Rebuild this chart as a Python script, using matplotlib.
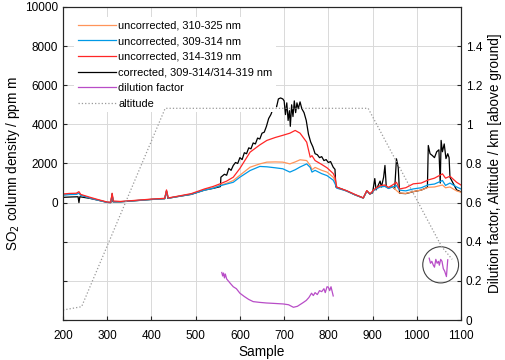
import numpy as np
import matplotlib
matplotlib.use("Agg")
import matplotlib.pyplot as plt
from matplotlib.patches import Ellipse

plt.rcParams['font.family'] = ['Liberation Sans', 'DejaVu Sans']
plt.rcParams['font.size'] = 8.5

# -----------------------------
# Data
# -----------------------------
x_unc = [200, 215, 230, 236, 240, 260, 280, 300, 308, 311, 314, 330, 360, 400, 430, 434, 438,
         460, 490, 520, 540, 555, 570, 585, 600, 623, 645, 661, 680, 697, 713, 725, 736, 751,
         759, 763, 770, 785, 797, 811, 815, 819, 830, 841, 860, 879, 887, 894, 905, 917, 928,
         936, 945, 954, 961, 975, 992, 1010, 1026, 1040, 1058, 1065, 1075, 1090, 1100]

red = [445, 470, 480, 560, 420, 280, 150, 30, 20, 480, 80, 60, 110, 180, 220, 650, 240,
       330, 460, 700, 830, 960, 1100, 1300, 1750, 2580, 2950, 3180, 3330, 3440, 3550, 3690, 3550, 3090,
       2320, 2400, 2150, 1950, 1780, 1490, 1300, 790, 700, 615, 420, 240, 615, 445, 700, 870, 900,
       780, 900, 1040, 700, 760, 960, 1000, 1160, 1250, 1470, 1250, 1350, 1040, 900]

orange = [400, 430, 440, 500, 390, 250, 130, 20, 10, 400, 60, 50, 100, 170, 210, 600, 230,
          320, 440, 650, 760, 880, 990, 1130, 1400, 1810, 1980, 2070, 2080, 2070, 1980, 2080, 2190, 2150,
          1900, 1680, 1800, 1650, 1560, 1300, 1130, 760, 680, 600, 400, 230, 590, 430, 680, 820, 850,
          740, 820, 620, 490, 470, 565, 640, 785, 800, 900, 760, 800, 600, 530]

blue = [380, 410, 420, 480, 370, 240, 120, 15, 5, 380, 50, 45, 95, 165, 205, 580, 225,
        315, 430, 640, 740, 860, 950, 1040, 1300, 1640, 1850, 1830, 1780, 1730, 1560, 1680, 1820, 1980,
        1800, 1560, 1650, 1480, 1380, 1150, 970, 740, 670, 595, 400, 230, 590, 430, 660, 800, 830,
        720, 800, 870, 640, 600, 700, 760, 910, 950, 1130, 880, 1000, 800, 700]

x_cor = [200, 220, 234, 236, 238, 260, 280, 300, 308, 311, 313, 330, 360, 400, 430, 434, 437,
         460, 490, 520, 540, 556, 557, 565, 570, 575, 580, 585, 590, 595, 600, 605, 610, 615,
         620, 625, 630, 635, 640, 645, 650, 655, 660, 665, 670, 675, 680, 683, 687, 692, 697,
         700, 703, 706, 709, 712, 714, 717, 720, 723, 726, 729, 732, 736, 740, 745, 750, 755,
         760, 765, 770, 775, 780, 785, 790, 795, 800, 805, 811, 815, 817, 830, 841, 860, 879,
         887, 894, 900, 905, 908, 917, 920, 925, 928, 931, 936, 945, 950, 954, 958, 961, 975,
         992, 1010, 1024, 1026, 1030, 1035, 1040, 1045, 1050, 1053, 1055, 1058, 1062, 1066,
         1070, 1073, 1075, 1090, 1100]

corrected = [270, 290, 300, 0, 300, 220, 120, 10, 0, 450, 40, 40, 90, 160, 200, 600, 220,
             310, 420, 640, 730, 820, 1300, 1450, 1400, 1750, 1650, 1900, 2050, 2000, 2300, 2200, 2550, 2500,
             2800, 2750, 3050, 3000, 3300, 3250, 3550, 3600, 3900, 4300, 4500, 4800, 4950, 4900, 5300, 5350, 5300,
             5200, 4500, 5100, 4200, 4700, 3900, 5000, 4400, 5200, 4600, 5100, 4800, 5150, 4800, 4600, 4200, 3500,
             3100, 2850, 2500, 2450, 2300, 2350, 2150, 2200, 2050, 2100, 1810, 1700, 800, 700, 600, 400, 240,
             600, 440, 500, 1230, 650, 1100, 800, 1300, 1900, 800, 750, 820, 700, 2240, 1800, 480, 460,
             560, 640, 780, 2920, 2500, 2410, 2300, 2600, 2700, 1000, 3180, 2600, 3000, 2250,
             2500, 2300, 1300, 650, 550]

x_dil = [559, 561, 563, 565, 567, 570, 578, 585, 592, 600, 610, 620, 630, 645, 660, 676, 698,
         710, 721, 730, 743, 750, 756, 762, 766, 770, 775, 780, 785, 790, 793, 797, 800, 803,
         806, 811, 812,
         1028, 1031, 1034, 1037, 1040, 1043, 1046, 1049, 1051, 1054, 1057, 1060, 1063, 1067, 1070]
dilution = [0.243, 0.225, 0.24, 0.215, 0.235, 0.21, 0.188, 0.17, 0.16, 0.137, 0.12, 0.105, 0.094,
            0.09, 0.087, 0.085, 0.082, 0.078, 0.065, 0.07, 0.089, 0.1, 0.115, 0.137, 0.125, 0.14,
            0.13, 0.15, 0.145, 0.16, 0.14, 0.17, 0.168, 0.15, 0.17, 0.123, np.nan,
            0.316, 0.29, 0.30, 0.282, 0.27, 0.31, 0.29, 0.30, 0.28, 0.31, 0.30, 0.262, 0.25, 0.222, 0.308]

x_alt = [200, 242, 431, 890, 1056, 1080]
altitude = [0.051, 0.068, 1.082, 1.082, 0.376, 0.31]

# -----------------------------
# Plot
# -----------------------------
fig = plt.figure(figsize=(5.05, 3.6), dpi=100)
ax = fig.add_axes([0.1248, 0.1111, 0.7881, 0.8695])
ax2 = ax.twinx()

c_orange = (1.0, 0.58, 0.35)
c_blue = (0.0, 0.6, 0.9)
c_red = (1.0, 0.15, 0.15)
c_purple = (0.72, 0.3, 0.78)

l1, = ax.plot(x_unc, orange, color=c_orange, lw=0.9, zorder=3)
l2, = ax.plot(x_unc, blue, color=c_blue, lw=0.9, zorder=4)
l3, = ax.plot(x_unc, red, color=c_red, lw=0.9, zorder=5)
l4, = ax.plot(x_cor, corrected, color='black', lw=0.9, zorder=2)
l5, = ax2.plot(x_dil, dilution, color=c_purple, lw=0.9)
l6, = ax2.plot(x_alt, altitude, color=(0.6, 0.6, 0.6), lw=0.9, ls=':')

# circle around the second dilution segment
ax2.add_patch(Ellipse((1054, 0.282), 81, 0.185, fill=False, edgecolor='0.25', lw=0.8))

ax.set_xlim(200, 1100)
ax.set_ylim(-6000, 10000)
ax2.set_ylim(0, 1.6)

ax.set_xticks(range(200, 1101, 100))
yt = list(range(-6000, 10001, 2000))
ax.set_yticks(yt)
ax.set_yticklabels([str(v) if v >= 0 else '' for v in yt])
rt = [0, 0.2, 0.4, 0.6, 0.8, 1.0, 1.2, 1.4]
ax2.set_yticks(rt)
ax2.set_yticklabels(['0', '0.2', '0.4', '0.6', '0.8', '1', '1.2', '1.4'])

ax.grid(True, color='0.85', lw=0.7)
ax.set_axisbelow(True)
ax.tick_params(direction='in', length=3, color='0.15')
ax.tick_params(axis='x', pad=7)
ax2.tick_params(direction='in', length=3, color='0.15')
for a in (ax, ax2):
    for s in a.spines.values():
        s.set_color('0.15')
        s.set_linewidth(0.8)

ax.set_xlabel('Sample', fontsize=9.8, labelpad=2)
ax.set_ylabel('SO$_2$ column density / ppm m', fontsize=9.8, labelpad=2)
ax2.set_ylabel('Dilution factor, Altitude / km [above ground]', fontsize=9.8, labelpad=4)

leg = ax.legend([l1, l2, l3, l4, l5, l6],
                ['uncorrected, 310-325 nm', 'uncorrected, 309-314 nm', 'uncorrected, 314-319 nm',
                 'corrected, 309-314/314-319 nm', 'dilution factor', 'altitude'],
                loc='upper left', bbox_to_anchor=(0.015, 0.985), fontsize=7.9,
                handlelength=3.5, labelspacing=0.52, borderpad=0.3, handletextpad=0.2,
                frameon=True, fancybox=False, edgecolor='none', facecolor='white', framealpha=1)
leg.set_zorder(10)

plt.savefig('out.png', dpi=100)
plt.close()
